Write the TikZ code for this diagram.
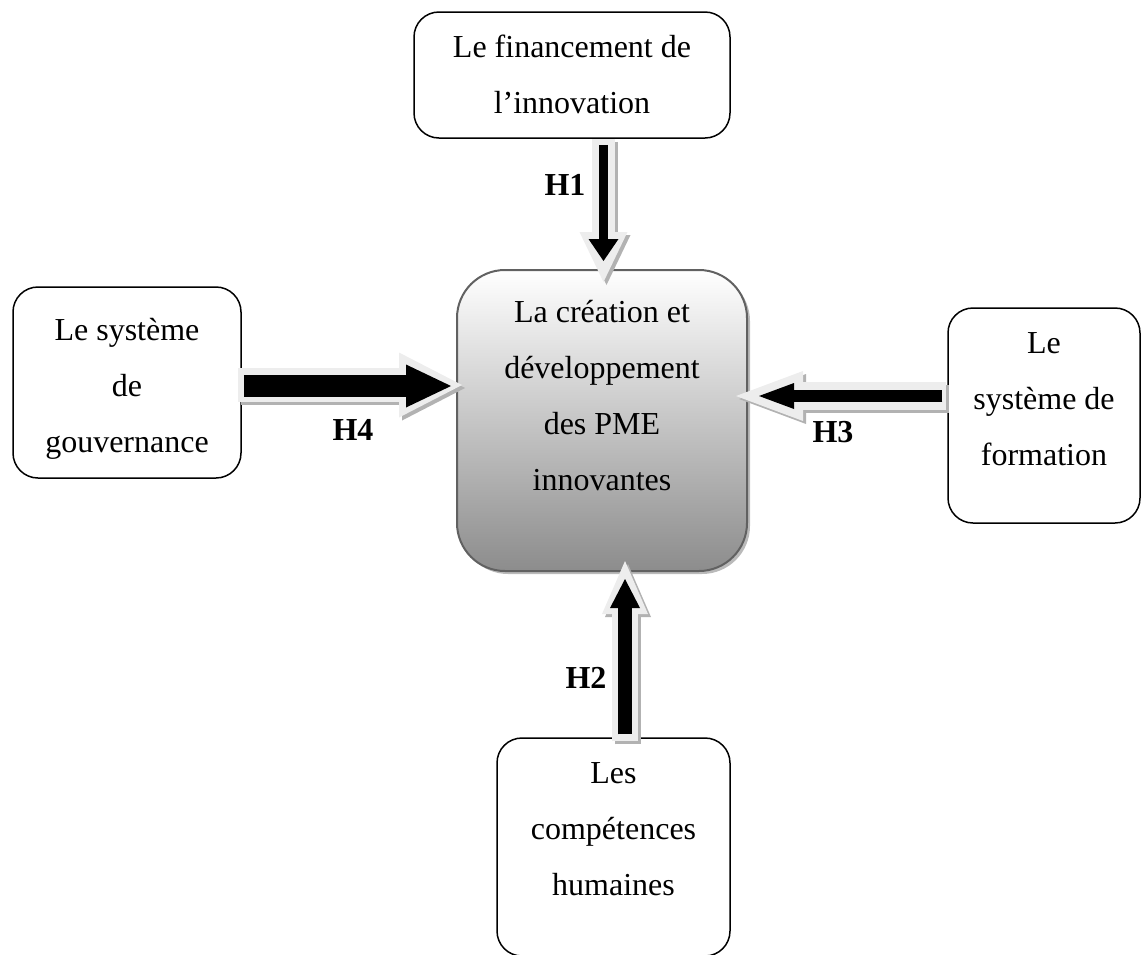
\documentclass[tikz,border=0pt]{standalone}
\usepackage{fontspec}
\setmainfont{Liberation Serif}
\usetikzlibrary{arrows.meta,calc,shadows}

\tikzset{
  box/.style={draw=black, line width=1.5pt, rounded corners=25pt, inner sep=0pt},
  corebox/.style={draw=black!62, line width=2pt, rounded corners=48pt, inner sep=0pt,
    top color=white, bottom color=black!45,
    drop shadow={shadow xshift=3pt, shadow yshift=-3pt, opacity=.45, fill=black!60}},
  % multi-line texts are anchored on the baseline of their last line
  txt/.style={font=\fontsize{32}{56}\selectfont, align=center, anchor=base, inner sep=0pt},
  hyp/.style={font=\fontsize{32}{38}\selectfont\bfseries, inner sep=0pt},
  % block arrow: shaft width, head width, head length
  fat/.style n args={3}{line width=#1,
    arrows={-{Triangle[width=#2,length=#3,line width=0pt]}}},
  haloshadow/.style={draw=black!30, transform canvas={xshift=3pt,yshift=-3pt}},
  halo/.style={draw=black!7},
  inner/.style={draw=black},
}

\begin{document}
\begin{tikzpicture}[x=1pt,y=-1pt]
\useasboundingbox (0,0) rectangle (1141,954);
\clip (0,0) rectangle (1141,954);

% the four factor boxes and the central box
\node[box, minimum width=316pt, minimum height=126pt] (fin) at (572,75) {};
\node[box, minimum width=228pt, minimum height=191pt] (gov) at (127,382.5) {};
\node[box, minimum width=192pt, minimum height=215pt] (form) at (1044,415.5) {};
\node[box, minimum width=233pt, minimum height=218pt] (hum) at (613.5,847) {};
\node[corebox, minimum width=290pt, minimum height=301pt] (core) at (602,420.5) {};

% texts
\node[txt] (fint) at (572,113) {Le financement de\\l’innovation};
\node[txt] (govt) at (127,452) {Le système\\de\\gouvernance};
\node[txt] (formt) at (1044,465) {Le\\système de\\formation};
\node[txt] (humt) at (613.5,895) {Les\\compétences\\humaines};
\node[txt] (coret) at (602,490) {La création et\\développement\\des PME\\innovantes};

% H1: financing -> core
\draw[haloshadow, fat={23pt}{48pt}{50pt}] ($(fin.south)+(31.5,0)$) -- ($(core.north)+(1.5,13)$);
\draw[halo, fat={23pt}{48pt}{50pt}] ($(fin.south)+(31.5,0)$) -- ($(core.north)+(1.5,13)$);
\draw[inner, fat={9.5pt}{30pt}{22pt}] ($(fin.south)+(31.5,6)$) -- ($(core.north)+(1.5,-8)$);

% H4: governance -> core
\draw[haloshadow, fat={34pt}{65pt}{63pt}] ($(gov.east)+(-4,2.5)$) -- ($(core.west)+(6,-35.5)$);
\draw[halo, fat={34pt}{65pt}{63pt}] ($(gov.east)+(-4,2.5)$) -- ($(core.west)+(6,-35.5)$);
\draw[inner, fat={22pt}{43pt}{45pt}] ($(gov.east)+(2,3.5)$) -- ($(core.west)+(-5,-34.5)$);

% H3: training -> core
\draw[haloshadow, fat={28pt}{50pt}{67pt}] ($(form.west)+(-1,-19.5)$) -- ($(core.east)+(-12,-24.5)$);
\draw[halo, fat={28pt}{50pt}{67pt}] ($(form.west)+(-1,-19.5)$) -- ($(core.east)+(-12,-24.5)$);
\draw[inner, fat={12pt}{26pt}{35pt}] ($(form.west)+(-5,-19.5)$) -- ($(core.east)+(11,-24.5)$);

% H2: human skills -> core
\draw[haloshadow, fat={26pt}{46pt}{53pt}] ($(hum.north)+(11.5,4)$) -- ($(core.south)+(23,-11)$);
\draw[halo, fat={26pt}{46pt}{53pt}] ($(hum.north)+(11.5,4)$) -- ($(core.south)+(23,-11)$);
\draw[inner, fat={14pt}{30pt}{29pt}] ($(hum.north)+(11.5,-3)$) -- ($(core.south)+(23,7)$);

% hypothesis labels
\node[hyp] (h1) at (565,185) {H1};
\node[hyp] (h4) at (353,430) {H4};
\node[hyp] (h3) at (833,432) {H3};
\node[hyp] (h2) at (586,678) {H2};
\end{tikzpicture}
\end{document}
